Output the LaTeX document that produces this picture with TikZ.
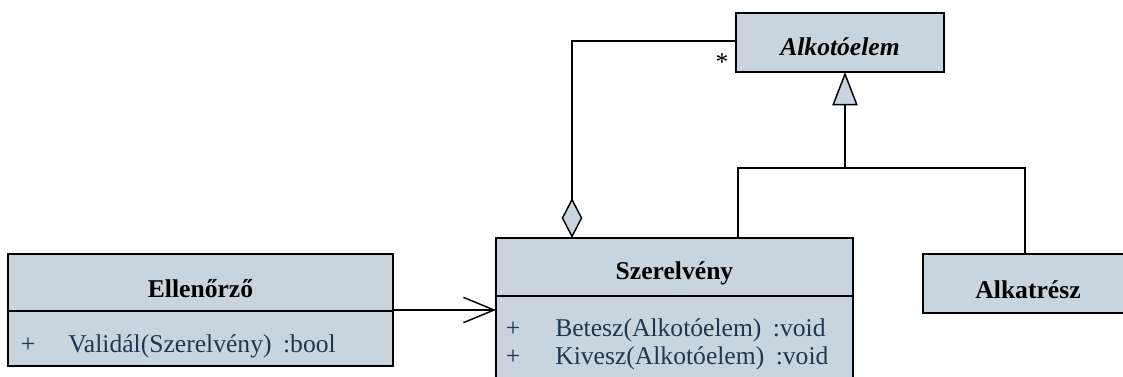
\documentclass[tikz,border=0pt]{standalone}
\usepackage{fontspec}
\setmainfont{Liberation Serif}
\usetikzlibrary{arrows.meta}

\definecolor{classfill}{RGB}{200,213,222}
\definecolor{opcolor}{RGB}{30,56,82}

\tikzset{
  classbox/.style={draw=black, line width=1.5pt, fill=classfill, rectangle,
    inner sep=0pt, outer sep=0pt},
  classname/.style={anchor=base, inner sep=0pt, font=\fontsize{19.2}{23}\selectfont\bfseries},
  abstractname/.style={classname, font=\fontsize{19.2}{23}\selectfont\bfseries\itshape},
  opvis/.style={anchor=base, inner sep=0pt, text=opcolor, font=\fontsize{19.2}{23}\selectfont},
  optext/.style={anchor=base west, inner sep=0pt, text=opcolor, font=\fontsize{19.2}{23}\selectfont},
  compart/.style={line width=1.5pt},
  link/.style={draw=black, line width=1.1pt},
  mult/.style={anchor=center, inner sep=0pt, font=\fontsize{19.2}{23}\selectfont}
}

\begin{document}
\begin{tikzpicture}[x=0.75pt, y=-0.75pt]
  \useasboundingbox (0,0) rectangle (1123,376);
  \clip (0,0) rectangle (1123,376);

  % ---- classes ----
  \node[classbox, minimum width=208pt*0.75, minimum height=59pt*0.75] (alk) at (840,42.5) {};
  \node[abstractname] (alkname) at (840,55) {Alkotóelem};

  \node[classbox, minimum width=385pt*0.75, minimum height=112pt*0.75] (ell) at (200.5,310) {};
  \coordinate (ellsepL) at (8,311);
  \coordinate (ellsepR) at (393,311);
  \draw[compart] (ellsepL) -- (ellsepR);
  \node[classname] (ellname) at (200.5,297) {Ellenőrző};
  \node[opvis] (ellvis) at (28,352) {+};
  \node[optext] (ellop) at (68,352) {Validál(Szerelvény)\hspace{0.45em}:bool};

  \node[classbox, minimum width=357pt*0.75, minimum height=160pt*0.75] (sz) at (674.5,318) {};
  \coordinate (szsepL) at (496,296);
  \coordinate (szsepR) at (853,296);
  \draw[compart] (szsepL) -- (szsepR);
  \node[classname] (szname) at (674.5,279) {Szerelvény};
  \node[opvis] (szvis1) at (513,336) {+};
  \node[optext] (szop1) at (555,336) {Betesz(Alkotóelem)\hspace{0.45em}:void};
  \node[opvis] (szvis2) at (513,364) {+};
  \node[optext] (szop2) at (555,364) {Kivesz(Alkotóelem)\hspace{0.45em}:void};

  \node[classbox, minimum width=210pt*0.75, minimum height=59pt*0.75] (part) at (1028,283.5) {};
  \node[classname] (partname) at (1028,298) {Alkatrész};

  % ---- aggregation: Szerelvény <>-- * Alkotóelem ----
  \coordinate (aggcorner) at (572,41);
  \draw[link, {Diamond[length=30pt, width=15.5pt, fill=classfill, line width=1.1pt]}-]
    (sz.north west -| aggcorner) -- (aggcorner) -- (alk.west |- aggcorner);
  \node[mult] (star) at (722,62) {*};

  % ---- generalization: Szerelvény, Alkatrész --|> Alkotóelem ----
  \coordinate (genjoin) at (845,168);
  \coordinate (genleft) at (738,168);
  \coordinate (genright) at (1025,168);
  \draw[link, -{Triangle[length=25pt, width=19pt, fill=classfill, line width=1.1pt]}]
    (genjoin) -- (alk.south -| genjoin);
  \draw[link] (sz.north -| genleft) -- (genleft) -- (genright) -- (part.north -| genright);

  % ---- navigable association: Ellenőrző --> Szerelvény ----
  \draw[link, -{Straight Barb[length=23pt, width=19pt, line width=1.1pt]}]
    (ell.east |- 0,310) -- (sz.west |- 0,310);
\end{tikzpicture}
\end{document}
